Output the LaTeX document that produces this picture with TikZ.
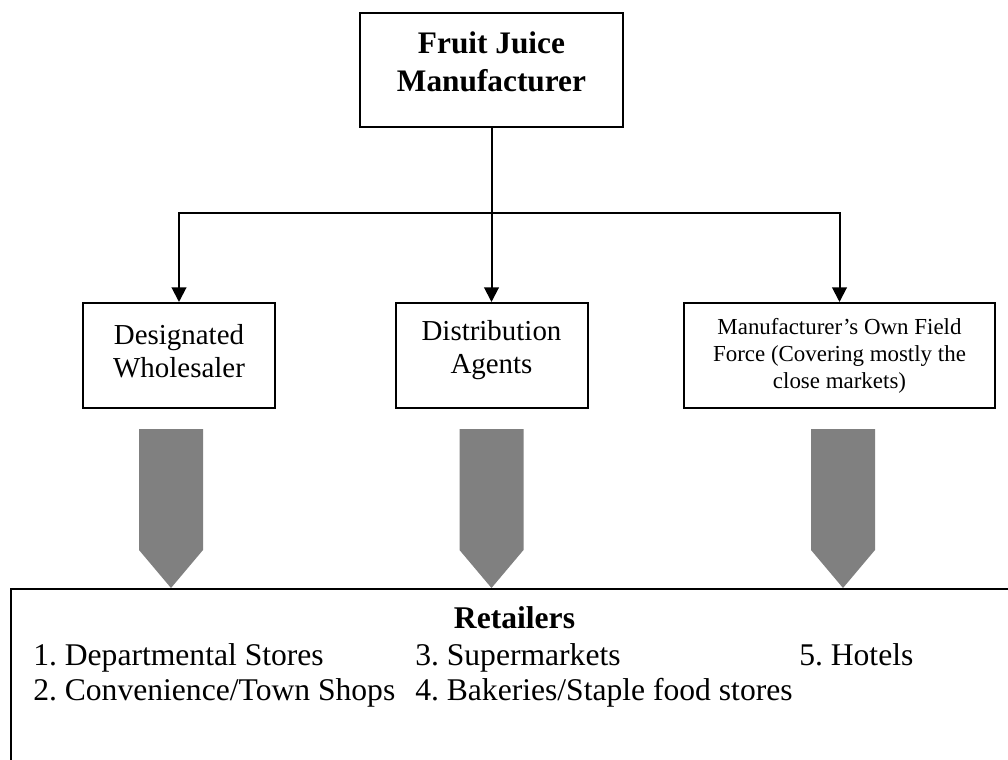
\documentclass[tikz,border=0pt]{standalone}
\usepackage{fontspec}
\setmainfont{Liberation Serif}
\usetikzlibrary{arrows.meta}
\definecolor{arrgray}{RGB}{128,128,128}
\frenchspacing
\begin{document}
\begin{tikzpicture}[x=0.75pt,y=-0.75pt,
  box/.style={draw=black, line width=1.5pt, inner sep=0pt, fill=white},
  arr/.style={draw=black, line width=1.5pt, -{Triangle[length=11pt,width=11pt]}},
  midtext/.style={align=center, anchor=base, inner sep=0pt, font=\fontsize{21.7pt}{24.75pt}\selectfont},
  smalltext/.style={align=center, anchor=base, inner sep=0pt, font=\fontsize{17.2pt}{19.9pt}\selectfont},
  toptext/.style={align=center, anchor=base, inner sep=0pt, font=\fontsize{23.5pt}{28.5pt}\selectfont\bfseries},
  rettext/.style={anchor=base west, inner sep=0pt, font=\fontsize{23.7pt}{26.25pt}\selectfont\frenchspacing},
  blockarrow/.style={fill=arrgray, draw=none}
]
\useasboundingbox (0,0) rectangle (1008,760);

% boxes
\node[box, minimum width=197.25pt, minimum height=85.5pt] (top) at (491.5,70) {};
\node[box, minimum width=144pt, minimum height=78.75pt] (dw) at (179,355.5) {};
\node[box, minimum width=144pt, minimum height=78.75pt] (da) at (491.5,355.5) {};
\node[box, minimum width=233.25pt, minimum height=78.75pt] (ff) at (839.5,355.5) {};

% texts (base anchor = baseline of last line)
\node[toptext] (toplbl) at (491.5,91) {Fruit Juice\\Manufacturer};
\node[midtext] (dwlbl) at (179,377) {Designated\\Wholesaler};
\node[midtext] (dalbl) at (491.5,373) {Distribution\\Agents};
\node[smalltext] (fflbl) at (839.5,388) {Manufacturer’s Own Field\\Force (Covering mostly the\\close markets)};

% connectors
\coordinate (j) at (491.5,213);
\draw[line width=1.5pt] (top.south) -- (j);
\draw[arr] (j) -| (dw.north);
\draw[arr] (top.south) -- (da.north);
\draw[arr] (j) -| (ff.north);

% gray block arrows
\fill[blockarrow] (139,429) -- (203,429) -- (203,550) -- (171,588) -- (139,550) -- cycle;
\fill[blockarrow] (459.5,429) -- (523.5,429) -- (523.5,550) -- (491.5,588) -- (459.5,550) -- cycle;
\fill[blockarrow] (811,429) -- (875,429) -- (875,550) -- (843,588) -- (811,550) -- cycle;

% retailers box
\begin{scope}
\clip (0,0) rectangle (1008,760);
\draw[line width=1.5pt] (11,589) rectangle (1040,800);
\end{scope}
\node[anchor=base, inner sep=0pt, font=\fontsize{23.7pt}{26.25pt}\selectfont\bfseries] (ret) at (514.5,628) {Retailers};
\node[rettext] (r1) at (33,665) {1. Departmental Stores};
\node[rettext] (r2) at (33,700) {2. Convenience/Town Shops};
\node[rettext] (r3) at (415,665) {3. Supermarkets};
\node[rettext] (r4) at (415,700) {4. Bakeries/Staple food stores};
\node[rettext] (r5) at (799,665) {5. Hotels};
\end{tikzpicture}
\end{document}
